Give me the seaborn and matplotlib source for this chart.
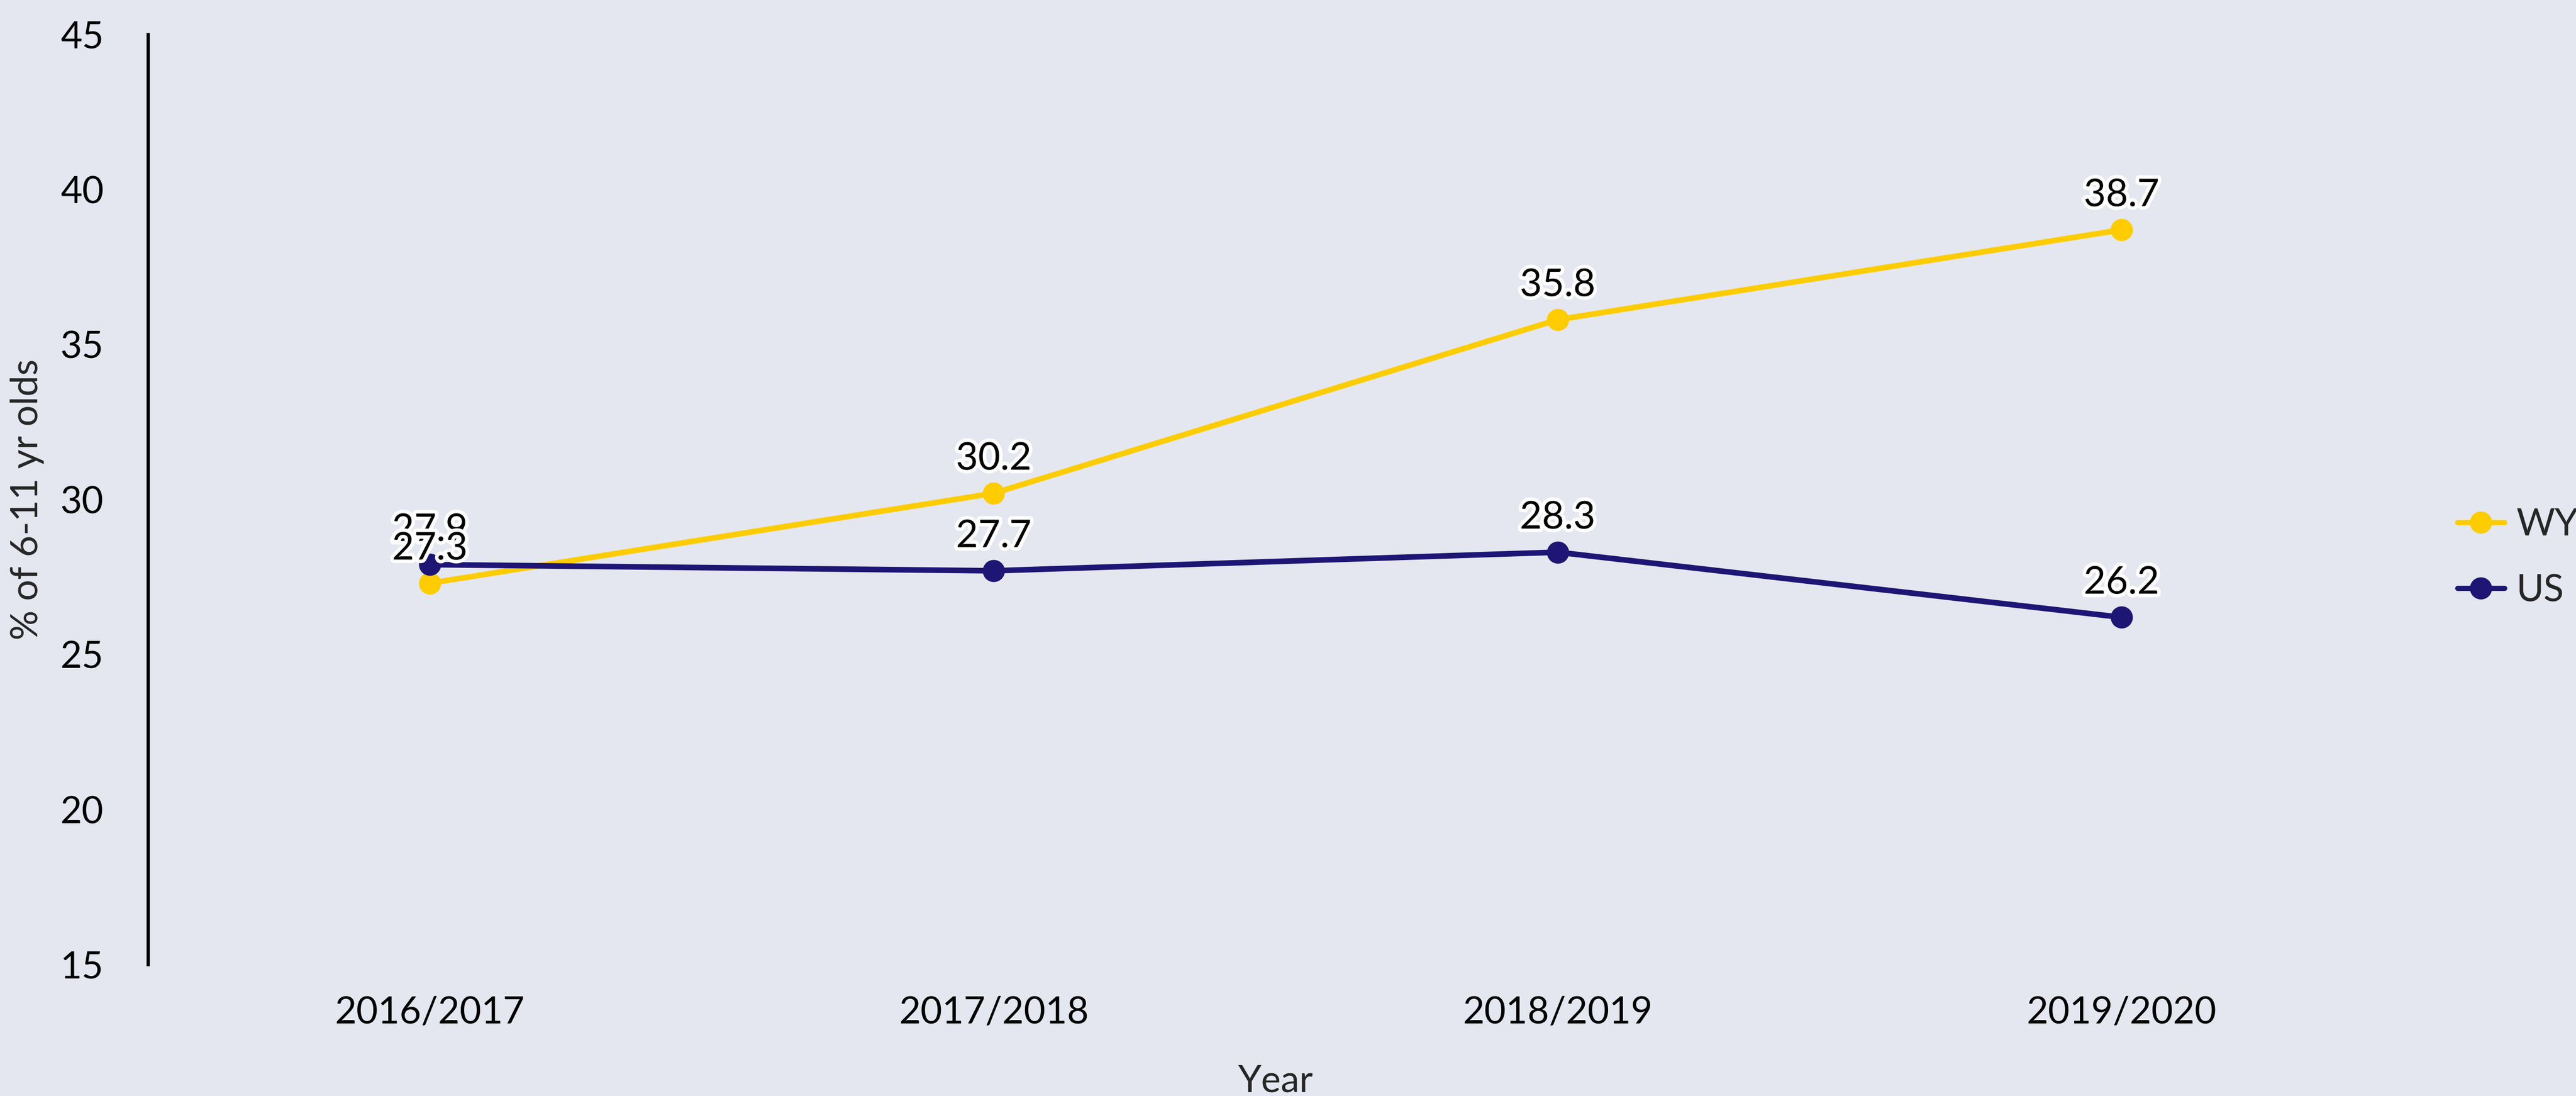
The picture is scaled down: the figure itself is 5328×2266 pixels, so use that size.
import matplotlib
matplotlib.use("Agg")
import matplotlib.pyplot as plt
import matplotlib.patheffects as pe
import seaborn as sns
import pandas as pd

years = ["2016/2017", "2017/2018", "2018/2019", "2019/2020"]
wy_values = [27.3, 30.2, 35.8, 38.7]
us_values = [27.9, 27.7, 28.3, 26.2]
series_names = ["WY", "US"]
colors = {"WY": "#FFCC00", "US": "#1E1675"}
yticks = [15, 20, 25, 30, 35, 40, 45]

df = pd.DataFrame({
    "Year": years * 2,
    "value": wy_values + us_values,
    "series": ["WY"] * len(years) + ["US"] * len(years),
})

bg = "#E4E7EF"
fs = 18.5
sns.set_theme(style="white")
plt.rcParams["font.family"] = ["Lato", "DejaVu Sans"]

fig = plt.figure(figsize=(5328 / 300, 2266 / 300), dpi=300, facecolor=bg)
ax = fig.add_axes([0.0574, 0.12, 0.8756, 0.8485])
ax.set_facecolor(bg)

sns.lineplot(data=df, x="Year", y="value", hue="series", hue_order=series_names,
             palette=colors, marker="o", markersize=11, markeredgewidth=0,
             linewidth=2.8, sort=False, ax=ax)

# data labels (US first so WY sits on top)
for name, vals in [("US", us_values), ("WY", wy_values)]:
    for i, v in enumerate(vals):
        ax.annotate(f"{v:.1f}", (i, v), xytext=(0, 17), textcoords="offset points",
                    ha="center", va="center", fontsize=19, color="black", zorder=10,
                    path_effects=[pe.withStroke(linewidth=3.5, foreground="white")])

ax.set_xlim(-0.5, 3.5)
ax.set_ylim(15, 45)
ax.set_yticks(yticks)
ax.tick_params(axis="both", length=0, labelsize=fs, colors="black")
ax.tick_params(axis="y", pad=22)
ax.tick_params(axis="x", pad=15.5)
for s in ["top", "right", "bottom"]:
    ax.spines[s].set_visible(False)
ax.spines["left"].set_color("black")
ax.spines["left"].set_linewidth(1.6)
ax.set_xlabel("Year", fontsize=fs, labelpad=17)
ax.set_ylabel("% of 6-11 yr olds", fontsize=fs, labelpad=8)

leg = ax.legend(loc="center left", bbox_to_anchor=(0.954, 0.491), bbox_transform=fig.transFigure,
                frameon=False, fontsize=fs, handlelength=1.26, handletextpad=0.32,
                labelspacing=0.85, borderpad=0, borderaxespad=0, title=None)
for h in leg.legend_handles:
    h.set_linewidth(2.6)
    h.set_markersize(11)

fig.savefig("out.png", dpi=300, facecolor=bg)
